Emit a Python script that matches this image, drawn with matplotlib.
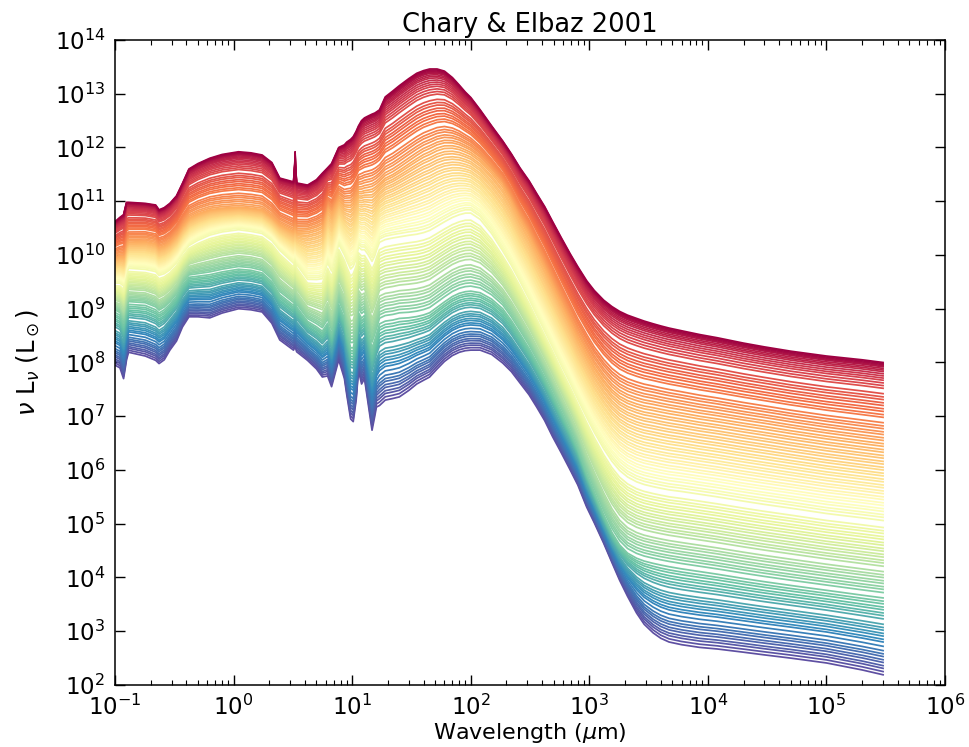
"""Chary & Elbaz (2001) template SEDs, nu L_nu vs wavelength, one line per template."""

import matplotlib
matplotlib.use("Agg")
import matplotlib.pyplot as plt
import numpy as np
from matplotlib.ticker import LogLocator, NullLocator

# --- wavelength knots (micron) ----------------------------------------------
WAVE = [
    # UV / optical
    0.10, 0.11, 0.118, 0.125, 0.13, 0.18, 0.22, 0.235, 0.26, 0.29,
    0.33, 0.37, 0.42, 0.50, 0.63, 0.80, 1.10,
    # near-IR
    1.40, 1.74, 2.10, 2.45, 3.20, 3.28, 3.30, 3.32, 3.40,
    # mid-IR
    4.20, 5.0, 5.60, 6.20, 6.70, 7.70, 8.60, 9.0, 9.70, 10.2,
    10.8, 11.3, 12.0, 12.7, 13.5, 14.7, 15.5, 16.0, 17.0, 19.0,
    22.0, 25.0,
    # far-IR -> radio
    30, 35, 40, 45, 52, 60, 70, 80, 90, 100,
    120, 150, 186, 220, 260, 310, 360, 420, 490, 580,
    690, 800, 950, 1100, 1320, 1550, 1800, 2100, 2500, 2900,
    3450, 4000, 4700, 6000, 8500, 1.2e4, 2e4, 3e4, 5e4, 1e5,
    2e5, 3e5,
]

# --- log10(nu L_nu / Lsun) of five reference templates -----------------------
# faintest (purple) template
LOG_L_FAINT = [
    7.95, 7.90, 7.70, 8.05, 8.19, 8.12, 8.04, 7.98, 8.05, 8.23,
    8.40, 8.66, 8.85, 8.85, 8.83, 8.92, 9.00,
    8.98, 8.94, 8.73, 8.42, 8.23, 8.28, 8.33, 8.28, 8.20,
    8.04, 7.88, 7.73, 7.75, 7.55, 8.05, 7.70, 7.40, 6.95, 6.90,
    7.30, 7.85, 7.60, 7.70, 7.30, 6.74, 7.00, 7.17, 7.20, 7.30,
    7.33, 7.36,
    7.48, 7.60, 7.67, 7.73, 7.88, 8.02, 8.13, 8.19, 8.22, 8.23,
    8.23, 8.15, 7.99, 7.83, 7.62, 7.40, 7.17, 6.92, 6.62, 6.32,
    6.00, 5.72, 5.31, 5.02, 4.64, 4.28, 3.95, 3.65, 3.34, 3.13,
    2.97, 2.87, 2.80, 2.75, 2.70, 2.67, 2.61, 2.56, 2.50, 2.41,
    2.28, 2.19,
]
# lower quarter (teal)
LOG_L_LOW = [
    8.95, 8.90, 8.75, 9.00, 9.10, 9.08, 9.00, 8.94, 9.00, 9.10,
    9.25, 9.45, 9.60, 9.62, 9.65, 9.70, 9.75,
    9.73, 9.68, 9.52, 9.28, 9.08, 9.15, 9.25, 9.15, 9.05,
    8.78, 8.68, 8.60, 8.75, 8.55, 9.10, 8.85, 8.60, 8.30, 8.30,
    8.55, 8.95, 8.85, 8.90, 8.65, 8.30, 8.45, 8.55, 8.75, 8.80,
    8.82, 8.85,
    8.86, 8.88, 8.91, 8.95, 9.05, 9.15, 9.25, 9.31, 9.34, 9.35,
    9.32, 9.20, 9.02, 8.80, 8.55, 8.28, 8.02, 7.74, 7.44, 7.10,
    6.75, 6.42, 5.95, 5.60, 5.18, 4.85, 4.62, 4.47, 4.38, 4.33,
    4.29, 4.26, 4.23, 4.19, 4.14, 4.09, 4.01, 3.95, 3.88, 3.79,
    3.70, 3.65,
]
# middle (pale yellow)
LOG_L_MID = [
    9.50, 9.50, 9.45, 9.70, 9.78, 9.76, 9.72, 9.65, 9.68, 9.75,
    9.88, 10.05, 10.20, 10.30, 10.40, 10.46, 10.50,
    10.47, 10.43, 10.30, 10.12, 9.88, 9.98, 10.10, 9.98, 9.86,
    9.58, 9.58, 9.60, 9.90, 9.75, 10.25, 10.05, 9.95, 9.80, 9.85,
    9.98, 10.20, 10.15, 10.15, 10.08, 9.95, 10.05, 10.15, 10.30, 10.35,
    10.38, 10.40,
    10.43, 10.45, 10.48, 10.52, 10.60, 10.68, 10.76, 10.81, 10.84, 10.84,
    10.72, 10.45, 10.12, 9.85, 9.55, 9.22, 8.92, 8.62, 8.32, 7.98,
    7.65, 7.35, 7.02, 6.75, 6.45, 6.22, 6.05, 5.93, 5.84, 5.79,
    5.75, 5.72, 5.69, 5.66, 5.61, 5.56, 5.48, 5.42, 5.35, 5.25,
    5.17, 5.12,
]
# upper quarter (orange)
LOG_L_HIGH = [
    9.95, 9.98, 9.98, 10.20, 10.25, 10.26, 10.22, 10.15, 10.18, 10.25,
    10.38, 10.55, 10.70, 10.78, 10.85, 10.88, 10.90,
    10.88, 10.85, 10.72, 10.58, 10.45, 10.60, 10.75, 10.60, 10.44,
    10.45, 10.50, 10.55, 10.90, 10.80, 11.05, 10.95, 10.95, 10.95, 11.00,
    11.10, 11.20, 11.20, 11.22, 11.23, 11.25, 11.28, 11.30, 11.35, 11.45,
    11.52, 11.60,
    11.72, 11.82, 11.90, 11.95, 12.02, 12.06, 12.06, 12.03, 11.98, 11.93,
    11.80, 11.58, 11.33, 11.05, 10.72, 10.42, 10.12, 9.82, 9.50, 9.15,
    8.80, 8.50, 8.20, 7.95, 7.70, 7.52, 7.40, 7.32, 7.26, 7.22,
    7.19, 7.16, 7.13, 7.09, 7.03, 6.98, 6.90, 6.84, 6.76, 6.66,
    6.57, 6.52,
]
# brightest (crimson) template
LOG_L_BRIGHT = [
    10.62, 10.70, 10.75, 10.98, 10.98, 10.96, 10.93, 10.84, 10.88, 10.96,
    11.10, 11.33, 11.60, 11.70, 11.80, 11.87, 11.92,
    11.90, 11.86, 11.72, 11.43, 11.36, 11.70, 11.92, 11.70, 11.34,
    11.30, 11.40, 11.52, 11.62, 11.70, 12.00, 12.05, 12.10, 12.15, 12.20,
    12.30, 12.40, 12.50, 12.55, 12.58, 12.62, 12.64, 12.66, 12.70, 12.94,
    13.05, 13.15,
    13.28, 13.38, 13.43, 13.46, 13.46, 13.42, 13.30, 13.16, 13.03, 12.93,
    12.70, 12.40, 12.12, 11.88, 11.62, 11.38, 11.14, 10.90, 10.62, 10.32,
    10.02, 9.78, 9.52, 9.34, 9.16, 9.04, 8.95, 8.88, 8.82, 8.77,
    8.72, 8.68, 8.64, 8.59, 8.52, 8.46, 8.36, 8.29, 8.21, 8.12,
    8.05, 8.00,
]

# log10(nu L_nu) of every template at the long-wavelength end (3e5 micron), faint -> bright
LOG_L_END = [
    2.19, 2.25, 2.31, 2.36, 2.42, 2.47, 2.53, 2.58, 2.64, 2.72,
    2.80, 2.85, 2.91, 2.96, 3.02, 3.07, 3.13, 3.23, 3.29, 3.34,
    3.40, 3.45, 3.51, 3.56, 3.62, 3.72, 3.78, 3.83, 3.89, 3.94,
    4.00, 4.05, 4.11, 4.21, 4.27, 4.32, 4.38, 4.43, 4.49, 4.54,
    4.60, 4.65, 4.71, 4.76, 4.82, 4.87, 4.93, 5.06, 5.12, 5.17,
    5.23, 5.28, 5.34, 5.39, 5.45, 5.50, 5.56, 5.61, 5.67, 5.72,
    5.78, 5.83, 5.89, 5.94, 6.00, 6.05, 6.11, 6.16, 6.22, 6.27,
    6.33, 6.38, 6.44, 6.49, 6.55, 6.60, 6.66, 6.71, 6.77, 6.82,
    6.88, 6.98, 7.03, 7.09, 7.14, 7.20, 7.25, 7.31, 7.36, 7.42,
    7.52, 7.57, 7.62, 7.67, 7.71, 7.75, 7.79, 7.83, 7.86, 7.89,
    7.92, 7.94, 7.96, 7.98, 8.00,
]

TITLE = "Chary & Elbaz 2001"
XLABEL = r"Wavelength ($\mu$m)"
YLABEL = r"$\nu$ L$_\nu$ (L$_\odot$)"


def template_curves():
    """One log-luminosity array per template, placed between the reference templates."""
    refs = np.array([LOG_L_FAINT, LOG_L_LOW, LOG_L_MID, LOG_L_HIGH, LOG_L_BRIGHT])
    ref_pos = np.linspace(0.0, 1.0, len(refs))
    pos = np.interp(LOG_L_END, refs[:, -1], ref_pos)
    return [np.array([np.interp(p, ref_pos, refs[:, k]) for k in range(refs.shape[1])])
            for p in pos]


def main():
    plt.rcParams.update({
        "font.family": "DejaVu Sans",
        "mathtext.fontset": "dejavusans",
        "axes.unicode_minus": False,
        "axes.linewidth": 1.1,
        "xtick.direction": "in",
        "ytick.direction": "in",
        "xtick.top": True,
        "ytick.right": True,
    })
    fig = plt.figure(figsize=(9.70, 7.47), dpi=100)
    ax = fig.add_axes([0.1186, 0.0830, 0.8557, 0.8635])

    curves = template_curves()
    cmap = plt.get_cmap("Spectral_r")
    n = len(curves)
    for i, logl in enumerate(curves):
        ax.plot(WAVE, 10.0 ** logl, color=cmap(i / (n - 1)), lw=1.25)

    ax.set_xscale("log")
    ax.set_yscale("log")
    ax.set_xlim(1e-1, 1e6)
    ax.set_ylim(1e2, 1e14)
    ax.yaxis.set_major_locator(LogLocator(base=10, numticks=20))
    ax.yaxis.set_minor_locator(NullLocator())
    ax.tick_params(which="major", length=7, width=1, labelsize=16.5, pad=7)
    ax.tick_params(which="minor", length=3.5, width=0.8)

    ax.set_title(TITLE, fontsize=18.5, pad=6)
    ax.set_xlabel(XLABEL, fontsize=16, labelpad=1)
    ax.set_ylabel(YLABEL, fontsize=17.5, labelpad=9)

    fig.savefig("out.png", dpi=100, facecolor="white")


if __name__ == "__main__":
    main()
